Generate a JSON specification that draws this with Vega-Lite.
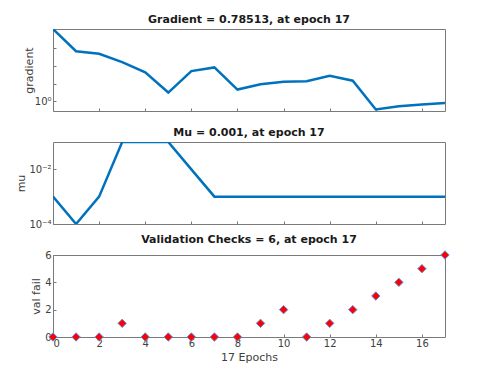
{
  "$schema": "https://vega.github.io/schema/vega-lite/v6.json",
  "padding": {"left": 15, "top": 13, "right": 5, "bottom": 5},
  "background": "white",
  "config": {
    "font": "DejaVu Sans",
    "view": {"stroke": "#7a7a7a", "strokeWidth": 1},
    "title": {"fontSize": 11, "fontWeight": "bold", "color": "#1a1a1a", "offset": 4},
    "axis": {
      "domainColor": "#7a7a7a", "tickColor": "#7a7a7a", "grid": false,
      "labelFont": "DejaVu Sans", "labelFontSize": 10, "labelColor": "#404040",
      "titleFont": "DejaVu Sans", "titleFontSize": 11, "titleFontWeight": "normal", "titleColor": "#404040",
      "tickSize": -3, "labelPadding": 5
    }
  },
  "datasets": {
    "train": [
      {"epoch": 0, "gradient": 12300, "mu": 0.001, "valfail": 0},
      {"epoch": 1, "gradient": 676, "mu": 0.0001, "valfail": 0},
      {"epoch": 2, "gradient": 482, "mu": 0.001, "valfail": 0},
      {"epoch": 3, "gradient": 163, "mu": 0.1, "valfail": 1},
      {"epoch": 4, "gradient": 43, "mu": 0.1, "valfail": 0},
      {"epoch": 5, "gradient": 3.1, "mu": 0.1, "valfail": 0},
      {"epoch": 6, "gradient": 51, "mu": 0.01, "valfail": 0},
      {"epoch": 7, "gradient": 82, "mu": 0.001, "valfail": 0},
      {"epoch": 8, "gradient": 4.6, "mu": 0.001, "valfail": 0},
      {"epoch": 9, "gradient": 9.1, "mu": 0.001, "valfail": 1},
      {"epoch": 10, "gradient": 12.8, "mu": 0.001, "valfail": 2},
      {"epoch": 11, "gradient": 13.4, "mu": 0.001, "valfail": 0},
      {"epoch": 12, "gradient": 28, "mu": 0.001, "valfail": 1},
      {"epoch": 13, "gradient": 14.6, "mu": 0.001, "valfail": 2},
      {"epoch": 14, "gradient": 0.34, "mu": 0.001, "valfail": 3},
      {"epoch": 15, "gradient": 0.52, "mu": 0.001, "valfail": 4},
      {"epoch": 16, "gradient": 0.65, "mu": 0.001, "valfail": 5},
      {"epoch": 17, "gradient": 0.78513, "mu": 0.001, "valfail": 6}
    ]
  },
  "data": {"name": "train"},
  "bounds": "flush",
  "spacing": 31,
  "vconcat": [
    {
      "title": "Gradient = 0.78513, at epoch 17",
      "width": 392, "height": 82,
      "mark": {"type": "line", "color": "#0072BD", "strokeWidth": 2.5, "clip": true},
      "encoding": {
        "x": {"field": "epoch", "type": "quantitative", "scale": {"domain": [0, 17], "nice": false},
              "axis": {"title": null, "labels": false, "values": [0, 2, 4, 6, 8, 10, 12, 14, 16], "domain": false}},
        "y": {"field": "gradient", "type": "quantitative",
              "scale": {"type": "log", "domain": [0.28, 12300], "nice": false},
              "axis": {"title": "gradient", "values": [1, 10, 100, 1000, 10000],
                       "labelExpr": "datum.value == 1 ? '10⁰' : ''", "domain": false, "titlePadding": 0}}
      }
    },
    {
      "title": "Mu = 0.001, at epoch 17",
      "width": 392, "height": 82,
      "mark": {"type": "line", "color": "#0072BD", "strokeWidth": 2.5, "clip": true},
      "encoding": {
        "x": {"field": "epoch", "type": "quantitative", "scale": {"domain": [0, 17], "nice": false},
              "axis": {"title": null, "labels": false, "values": [0, 2, 4, 6, 8, 10, 12, 14, 16], "domain": false}},
        "y": {"field": "mu", "type": "quantitative",
              "scale": {"type": "log", "domain": [0.0001, 0.1], "nice": false},
              "axis": {"title": "mu", "values": [0.0001, 0.01],
                       "labelExpr": "datum.value < 0.001 ? '10⁻⁴' : '10⁻²'", "domain": false, "titlePadding": 2}}
      }
    },
    {
      "title": "Validation Checks = 6, at epoch 17",
      "width": 392, "height": 82,
      "mark": {"type": "point", "shape": "diamond", "filled": true, "fill": "#ff0000", "stroke": "#5b8fd9", "strokeWidth": 1, "size": 70, "opacity": 1, "clip": false},
      "encoding": {
        "x": {"field": "epoch", "type": "quantitative", "scale": {"domain": [0, 17], "nice": false},
              "axis": {"title": "17 Epochs", "values": [0, 2, 4, 6, 8, 10, 12, 14, 16], "domain": false, "labelPadding": 4, "titlePadding": 3}},
        "y": {"field": "valfail", "type": "quantitative",
              "scale": {"domain": [0, 6], "nice": false},
              "axis": {"title": "val fail", "values": [0, 2, 4, 6], "domain": false, "titlePadding": 3}}
      }
    }
  ]
}
